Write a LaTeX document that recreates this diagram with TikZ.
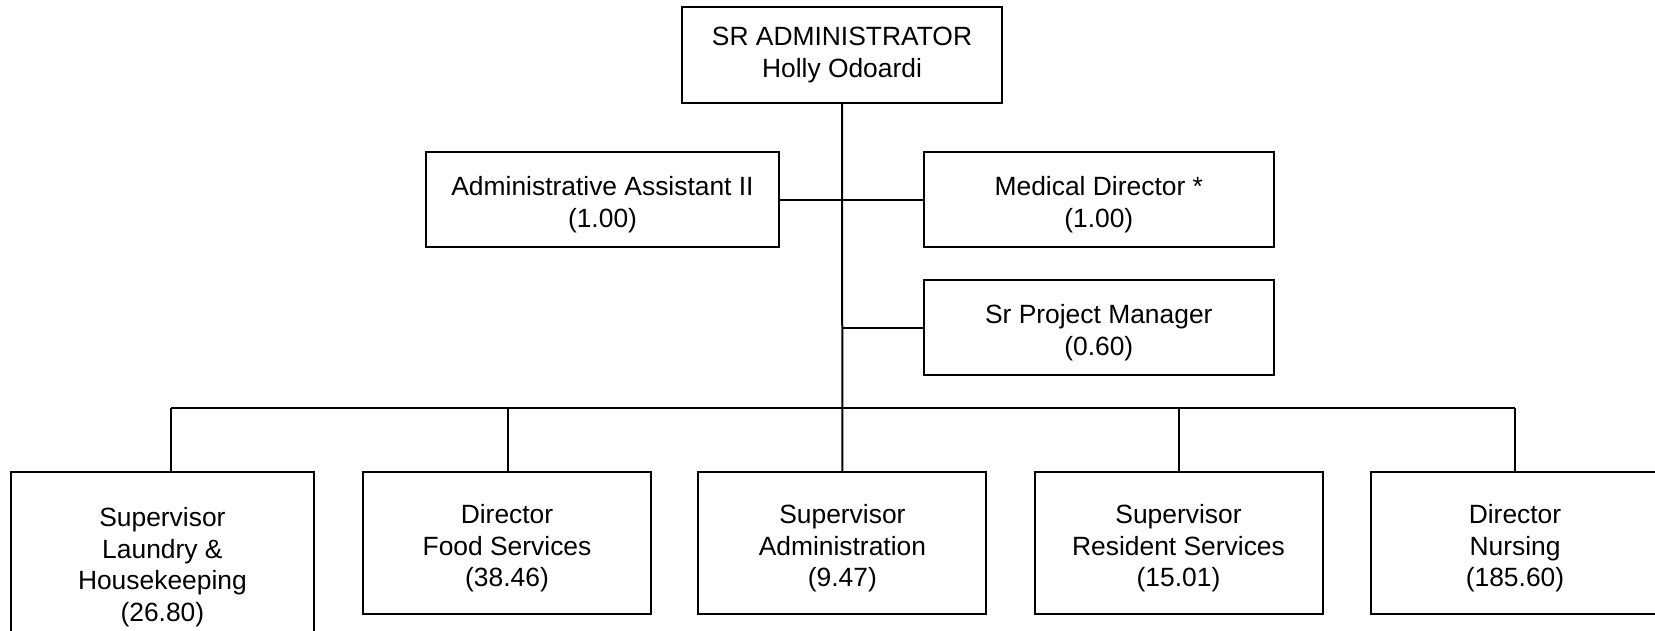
\documentclass[tikz,border=0pt]{standalone}
\usepackage{fontspec}
\setmainfont{Liberation Sans}
\newcommand{\dropline}{\rule{0pt}{14.8pt}}
\tikzset{
	unit/.style={draw, line width=1pt, align=center, inner sep=0pt, font=\fontsize{13.2}{15.85}\selectfont},
	dept/.style={unit, minimum width=144pt, minimum height=71.25pt},
	link/.style={line width=1pt}
}

\begin{document}
\begin{tikzpicture}[x=1pt,y=1pt]
					\useasboundingbox (0,0) rectangle (827.5,-315.5);
					%TOP
					\node[unit, minimum width=160pt, minimum height=48pt] (sradmin) at (421,-27.5) {SR ADMINISTRATOR\\Holly Odoardi};
					%STAFF
					\node[unit, minimum width=176.5pt, minimum height=47.5pt] (aide) at (301.25,-99.75) {\dropline Administrative Assistant II\\(1.00)};
					\node[unit, minimum width=175pt, minimum height=47.5pt] (meddir) at (549.4,-99.75) {\dropline Medical Director *\\(1.00)};
					\node[unit, minimum width=175pt, minimum height=47.5pt] (projmgr) at (549.4,-163.75) {\dropline Sr Project Manager\\(0.60)};
					%DEPARTMENTS
					\node[unit, minimum width=151.6pt, minimum height=90pt] (laundry) at (81.2,-281) {\dropline Supervisor\\Laundry \&\\Housekeeping\\(26.80)};
					\node[dept] (food) at (253.5,-271.6) {\dropline Director\\Food Services\\(38.46)};
					\node[dept] (office) at (421.2,-271.6) {\dropline Supervisor\\Administration\\(9.47)};
					\node[dept] (resident) at (589.25,-271.6) {\dropline Supervisor\\Resident Services\\(15.01)};
					\node[dept] (nursing) at (757.5,-271.6) {\dropline Director\\Nursing\\(185.60)};
					%LINES
					\draw[link] (sradmin.south) -- (office.north);
					\draw[link] (aide.east) -- (meddir.west);
					\draw[link] (projmgr.west) -- (projmgr.west -| sradmin.south);
					\foreach \d/\x in {laundry/85.35, food/253.8, resident/589.25, nursing/757.5}
						\coordinate (\d-top) at (\x,-204);
					\draw[link] (laundry-top) -- (nursing-top);
					\foreach \d in {laundry, food, resident, nursing}
						\draw[link] (\d-top) -- (\d-top |- \d.north);
	  \end{tikzpicture}
\end{document}
